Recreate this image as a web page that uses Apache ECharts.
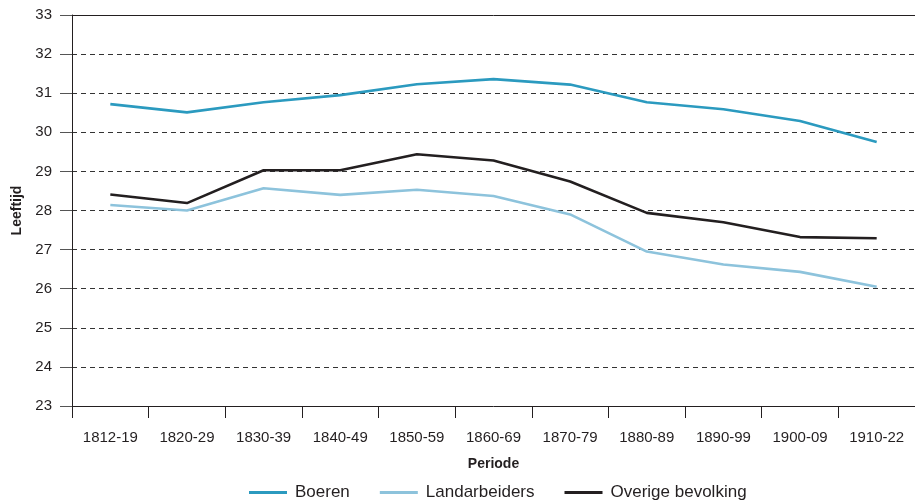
<!DOCTYPE html>
<html>
<head>
<meta charset="utf-8">
<script src="https://cdn.jsdelivr.net/npm/echarts@6/dist/echarts.min.js"></script>
<style>
html,body{margin:0;padding:0;background:#fff;}
#chart{width:915px;height:503px;}
</style>
</head>
<body>
<div id="chart"></div>
<script>
const categories = ['1812-19','1820-29','1830-39','1840-49','1850-59','1860-69','1870-79','1880-89','1890-99','1900-09','1910-22'];
const boeren = [30.72, 30.51, 30.77, 30.95, 31.23, 31.36, 31.22, 30.77, 30.59, 30.29, 29.75];
const landarbeiders = [28.14, 28.00, 28.57, 28.40, 28.53, 28.37, 27.90, 26.95, 26.62, 26.43, 26.05];
const overige = [28.41, 28.19, 29.03, 29.03, 29.44, 29.28, 28.74, 27.94, 27.70, 27.32, 27.29];
const seriesNames = ['Boeren', 'Landarbeiders', 'Overige bevolking'];
const seriesColors = ['#2b9abf', '#8dc3dc', '#231f20'];

const FONT = '"Liberation Sans", Arial, sans-serif';
const chart = echarts.init(document.getElementById('chart'), null, {renderer: 'canvas'});
const dataSets = [boeren, landarbeiders, overige];

chart.setOption({
  animation: false,
  textStyle: {fontFamily: FONT},
  grid: {left: 72, top: 15, width: 849, height: 391, containLabel: false},
  legend: {
    top: 479,
    left: 244,
    itemWidth: 38,
    itemHeight: 3,
    itemGap: 30,
    icon: 'rect',
    textStyle: {fontSize: 17, color: '#231f20', fontFamily: FONT, padding: [0, 0, 0, 3]},
    data: seriesNames
  },
  xAxis: [{
    type: 'category',
    data: categories,
    boundaryGap: true,
    position: 'bottom',
    name: 'Periode',
    nameLocation: 'middle',
    nameGap: 51,
    nameTextStyle: {fontSize: 14, fontWeight: 'bold', color: '#231f20'},
    axisLine: {show: true, lineStyle: {color: '#231f20', width: 1}},
    axisTick: {show: true, length: 12, lineStyle: {color: '#231f20'}},
    axisLabel: {fontSize: 15, color: '#231f20', margin: 24, interval: 0}
  }, {
    type: 'category',
    data: categories,
    position: 'top',
    axisLine: {show: true, lineStyle: {color: '#231f20', width: 1}},
    axisTick: {show: false},
    axisLabel: {show: false}
  }],
  yAxis: {
    type: 'value',
    min: 23,
    max: 33,
    interval: 1,
    name: 'Leeftijd',
    nameLocation: 'middle',
    nameGap: 47,
    nameTextStyle: {fontSize: 14, fontWeight: 'bold', color: '#231f20'},
    axisLine: {show: true, lineStyle: {color: '#231f20', width: 1}},
    axisTick: {show: true, length: 12, lineStyle: {color: '#555'}},
    axisLabel: {fontSize: 15, color: '#231f20', margin: 20},
    splitLine: {show: true, lineStyle: {color: '#333', type: [5, 4], width: 1}}
  },
  series: dataSets.map((d, i) => ({
    name: seriesNames[i],
    type: 'line',
    data: d,
    symbol: 'none',
    lineStyle: {width: 2.6, color: seriesColors[i]},
    itemStyle: {color: seriesColors[i]},
    z: 3 + (2 - i)
  }))
});
</script>
</body>
</html>
